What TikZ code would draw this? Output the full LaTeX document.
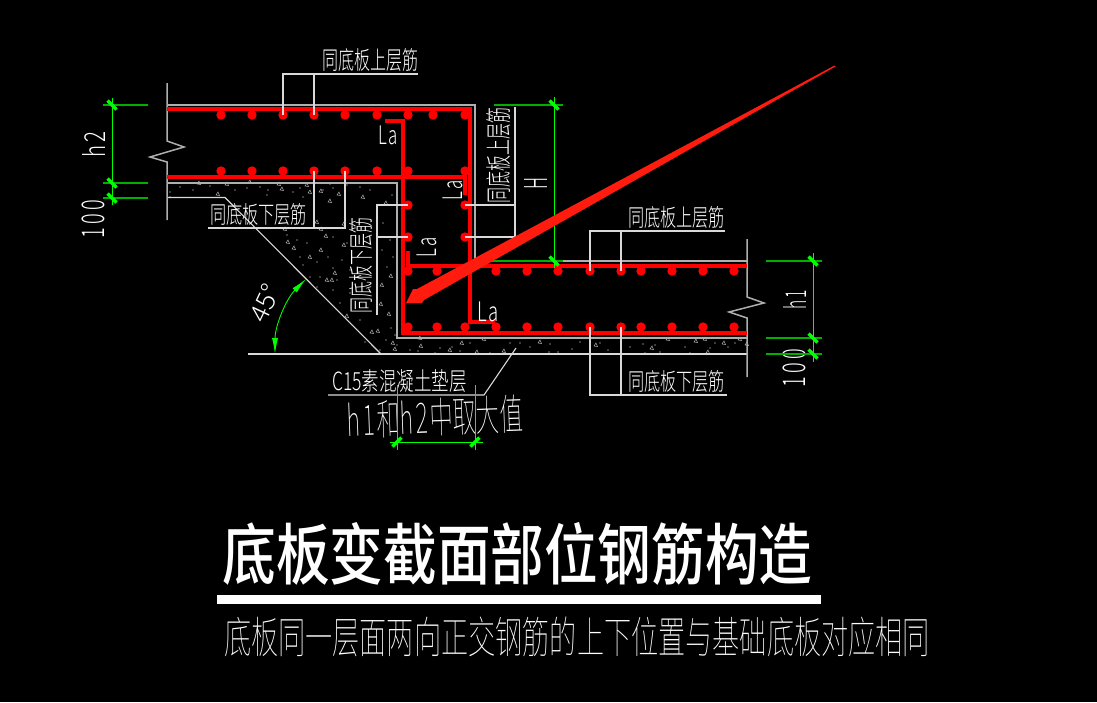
\documentclass[tikz,border=0pt]{standalone}
\usepackage{fontspec}
\usepackage{graphicx}
\usetikzlibrary{arrows.meta}
\newfontfamily\cadfont{Noto Sans CJK SC Light}
\newfontfamily\thinfont{Noto Sans CJK SC Thin}
\newfontfamily\titlefont{Noto Sans CJK SC Medium}
\newcommand{\sizedtext}[3]{\resizebox*{#1pt}{#2pt}{#3}}
\definecolor{cadgray}{RGB}{175,175,175}
\definecolor{cadgreen}{RGB}{0,255,0}
\definecolor{extgreen}{RGB}{0,175,0}
\definecolor{arrowred}{RGB}{255,28,14}
\tikzset{
  cadlabel/.style={inner sep=0pt,text=white,font=\cadfont},
  outline/.style={draw=cadgray,line width=1.5pt},
  leader/.style={draw=white!85!black,line width=1.1pt},
  rebar/.style={draw=red,line width=3.6pt,line join=miter},
  dimline/.style={draw=cadgreen,line width=.9pt},
  extline/.style={draw=extgreen,line width=1.4pt},
  tickmark/.style={draw=cadgreen,line width=3.4pt},
  speck/.style={draw=white!70!black,line width=.5pt}
}
\begin{document}
\begin{tikzpicture}[x=1pt,y=-1pt]
  \fill[black] (0,0) rectangle (1097,702);
  \useasboundingbox (0,0) rectangle (1097,702);
  % concrete
  \foreach \X/\Y in {197/184,225/185,248/183,277/185,280/190,305/186,308/193,319/192,337/195,328/202,361/198,216/195,342/225,315/223,283/230,319/230,324/237,286/243,292/249,319/251,308/258,342/246,333/274,325/281,330/281,380/286,389/277,379/305,387/315,370/333,376/332,391/344,393/350,345/317,384/204,418/339,419/347,460/344,448/351,475/353,482/340,502/352,538/343,594/346,650/349,666/340,694/342,703/340,722/344,706/353,738/340,745/345}
    \draw[speck] (\X,\Y) -- ++(3.5,.5) -- ++(-1.5,-3.5) -- cycle;
  \foreach \X/\Y in {170/192,180/187,193/190,210/186,218/183.5,235/190,247/188,260/187,268/190,293/192,300/188,303/197,323/190,330/184,333/188,347/185,360/187,370/190,170/197,267/195,287/235,297/240,307/243,333/237,347/243,300/257,303/265,317/262,328/257,342/260,333/268,320/277,337/280,350/270,310/277,317/287,333/290,340/303,350/293,360/320,377/280,387/267,393/257,390/240,382/250,383/223,392/195,397/188,391/328,386/340,395/335,365/342,380/350,
    397/345,410/350,418/351,435/353,440/348,452/347,460/351,470/343,490/353,510/343,520/343,530/347,550/344,549/352,558/352,572/349,580/342,600/343,608/350,630/347,643/344,645/353,655/345,660/352,685/347,690/353,710/348,715/343,728/347,735/343}
    \fill[white] (\X,\Y) circle (.55);
  \draw[outline] (167,105) -- (475,105) -- (475,261) -- (747,261);
  \draw[outline] (167,183) -- (397,183) -- (397,338) -- (747,338);
  \draw[leader] (167,197.5) -- (225,197.5) -- (381,354);
  \draw[leader] (248,354) -- (747,354);
  % walls
  \draw[outline] (167,83) -- (167,141) -- (184,147) -- (150,157) -- (167,162) -- (167,220);
  \draw[outline] (747,239) -- (747,297) -- (764,303) -- (729,312) -- (747,318) -- (747,377);
  % rebar
  \draw[rebar] (167,109) -- (470,109) -- (470,322) -- (495,322);
  \draw[rebar] (167,177) -- (465,177) -- (465,195);
  \draw[rebar] (385,121) -- (403,121) -- (403,333) -- (747,333);
  \draw[rebar] (408,251) -- (408,266) -- (747,266);
  \foreach \X in {221,252,283,314,345,377,408,433,465}
    \fill[red] (\X,115) circle (4.7);
  \foreach \X in {221,252,283,314,345,377,408,465}
    \fill[red] (\X,171) circle (4.7);
  \foreach \X in {408,465} {
    \fill[red] (\X,205) circle (4.7);
    \fill[red] (\X,237) circle (4.7);
  }
  \foreach \X in {408,437,465,496,527,558,590,621,641,672,703,734} {
    \fill[red] (\X,271) circle (4.7);
    \fill[red] (\X,327) circle (4.7);
  }
  % leaders
  \draw[leader] (283,115) -- (283,74) -- (418,74);
  \draw[leader] (314,115) -- (314,74);
  \draw[leader] (314,171) -- (314,228);
  \draw[leader] (345,171) -- (345,228) -- (208,228);
  \draw[leader] (465,205) -- (515,205);
  \draw[leader] (465,237) -- (515,237) -- (515,107);
  \draw[leader] (408,205) -- (377,205) -- (377,315);
  \draw[leader] (408,237) -- (377,237);
  \draw[leader] (590,271) -- (590,231) -- (725,231);
  \draw[leader] (621,271) -- (621,231);
  \draw[leader] (590,327) -- (590,395) -- (727,395);
  \draw[leader] (621,327) -- (621,395);
  \draw[leader] (328,395) -- (484,395) -- (516,348);
  % texts
  \node[cadlabel] (topbar) at (370,60.5) {\sizedtext{96}{23}{同底板上层筋}};
  \node[cadlabel] (leftbar) at (258.5,214) {\sizedtext{97}{22}{同底板下层筋}};
  \node[cadlabel] (rightbar) at (676.5,217) {\sizedtext{97}{22}{同底板上层筋}};
  \node[cadlabel] (lowbar) at (676.5,381) {\sizedtext{97}{22}{同底板下层筋}};
  \node[cadlabel,rotate=90] (sidetop) at (499,155) {\sizedtext{96}{24}{同底板上层筋}};
  \node[cadlabel,rotate=90] (sidelow) at (361.5,265) {\sizedtext{96}{23}{同底板下层筋}};
  \node[cadlabel] (lap1) at (388,135.5) {\sizedtext{20}{19}{L\hspace{.12em}a}};
  \node[cadlabel,rotate=90] (lap2) at (453,190) {\sizedtext{20}{20}{L\hspace{.12em}a}};
  \node[cadlabel,rotate=90] (lap3) at (427,247) {\sizedtext{20}{20}{L\hspace{.12em}a}};
  \node[cadlabel] (lap4) at (488,312) {\sizedtext{22}{20}{L\hspace{.12em}a}};
  \node[cadlabel,rotate=90] (dimH) at (535.5,183) {\sizedtext{12}{23}{H}};
  \node[cadlabel,rotate=90] (dimh2) at (93.5,144.5) {\sizedtext{25}{23}{h\hspace{.1em}2}};
  \node[cadlabel,rotate=90] (dimlefthund) at (93.5,219) {\sizedtext{38}{23}{1\hspace{.15em}0\hspace{.15em}0}};
  \node[cadlabel,rotate=90] (dimh1) at (794.5,299.5) {\sizedtext{19}{23}{h\hspace{.1em}1}};
  \node[cadlabel,rotate=90] (dimrighthund) at (794.5,368) {\sizedtext{38}{23}{1\hspace{.15em}0\hspace{.15em}0}};
  \node[cadlabel,rotate=65] (angle) at (265,303) {\sizedtext{38}{20}{45°}};
  \node[cadlabel] (cushion) at (399.5,381.5) {\sizedtext{135}{23}{C15素混凝土垫层}};
  \node[cadlabel,font=\thinfont,rotate=2] (larger) at (435,417) {\sizedtext{176}{38}{h\hspace{.12em}1\hspace{.05em}和h\hspace{.12em}2\hspace{.05em}中取大值}};
  \node[cadlabel,font=\titlefont] (title) at (517.5,553.5) {\sizedtext{590}{63}{底板变截面部位钢筋构造}};
  \fill[white] (217,594.5) rectangle (821,603.5);
  \node[cadlabel,font=\thinfont] (subtitle) at (577,637) {\sizedtext{706}{40}{底板同一层面两向正交钢筋的上下位置与基础底板对应相同}};
  % dimensions
  \begin{scope}
    \draw[extline] (103,105) -- (148,105);
    \draw[extline] (103,183) -- (148,183);
    \draw[extline] (103,198) -- (148,198);
    \draw[dimline] (112,98) -- (112,205);
    \draw[extline] (494,105) -- (563,105);
    \draw[extline] (487,261) -- (563,261);
    \draw[dimline] (554,97) -- (554,268);
    \draw[extline] (766,261) -- (822,261);
    \draw[extline] (766,338) -- (822,338);
    \draw[extline] (766,354) -- (822,354);
    \draw[dimline] (813,253) -- (813,362);
    \draw[dimline] (397,385) -- (397,450);
    \draw[dimline] (475,385) -- (475,450);
    \draw[dimline] (390,442) -- (483,442);
    \foreach \X/\Y in {112/105,112/183,112/198,554/105,554/261,813/261,813/338,813/354}
      \draw[tickmark] (\X-4.5,\Y-4.5) -- (\X+4.5,\Y+4.5);
    \foreach \X in {397,475}
      \draw[tickmark] (\X-4.5,442+4.5) -- (\X+4.5,442-4.5);
    \draw[dimline,{Latex[length=16pt,width=6pt]}-{Latex[length=16pt,width=6pt]}] (275,354) .. controls (275,326) and (286,299) .. (306,279);
  \end{scope}
  % big arrow
  \fill[arrowred] (835.5,66.5) -- (424,300) -- (422,303) -- (406,303) -- (413,289) -- (417,289) -- (834.5,65.5) -- cycle;
\end{tikzpicture}
\end{document}
